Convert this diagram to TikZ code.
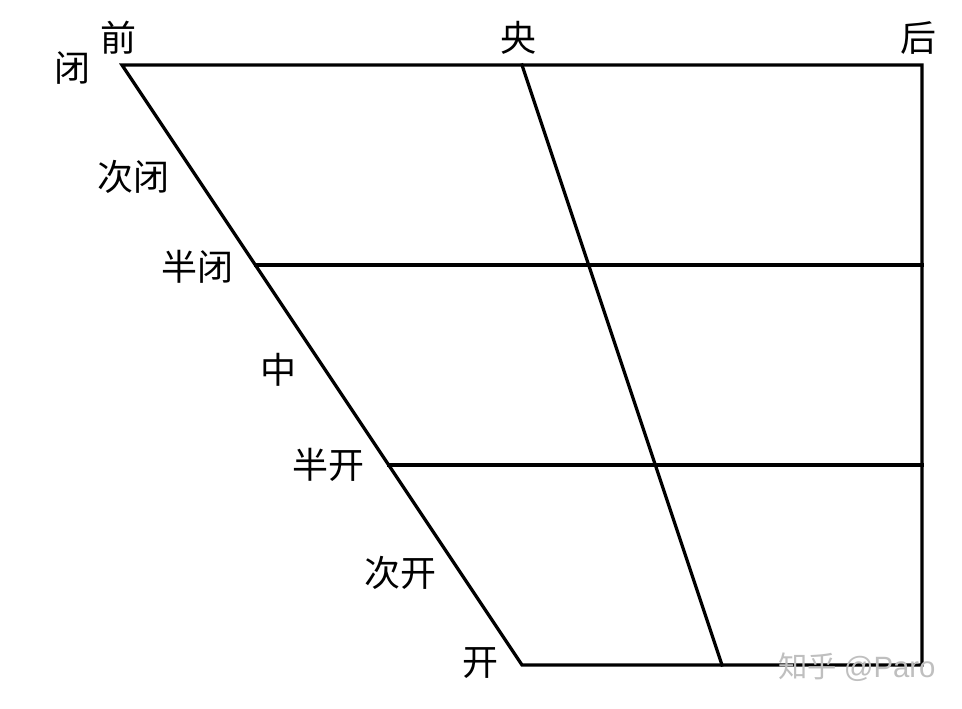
\documentclass[tikz,border=0pt]{standalone}
\usepackage{fontspec}
\newfontfamily\cjk{Noto Sans CJK SC}
\begin{document}
\begin{tikzpicture}[x=0.75pt,y=-0.75pt,
  edge/.style={line width=2.4pt,line cap=rect,line join=miter},
  lab/.style={font=\cjk\fontsize{27}{27}\selectfont,inner sep=0pt},
  wm/.style={font=\cjk\fontsize{22}{22}\selectfont,inner sep=0pt,text=black!25}]
\useasboundingbox[fill=white] (0,0) rectangle (962,709);
\coordinate (tl) at (122,65);
\coordinate (tm) at (522,65);
\coordinate (tr) at (922,65);
\coordinate (br) at (922,665);
\coordinate (bm) at (722,665);
\coordinate (bl) at (522,665);
\coordinate (l1) at (255.33,265);
\coordinate (r1) at (922,265);
\coordinate (l2) at (388.67,465);
\coordinate (r2) at (922,465);
\draw[edge] (bl) -- (tl) -- (tr) -- (br) -- cycle;
\draw[edge] (tm) -- (bm);
\draw[edge] (l1) -- (r1);
\draw[edge] (l2) -- (r2);
\node[lab] (n1) at (72,68) {闭};
\node[lab] (n2) at (118,38) {前};
\node[lab] (n3) at (518,38) {央};
\node[lab] (n4) at (918,38) {后};
\node[lab] (n5) at (133,177) {次闭};
\node[lab] (n6) at (197,267) {半闭};
\node[lab] (n7) at (278,370) {中};
\node[lab] (n8) at (328,465) {半开};
\node[lab] (n9) at (400,573) {次开};
\node[lab] (n10) at (480,663) {开};
\node[wm] (w) at (857,667) {知乎 {\fontspec{Liberation Sans}@Paro}};
\end{tikzpicture}
\end{document}
